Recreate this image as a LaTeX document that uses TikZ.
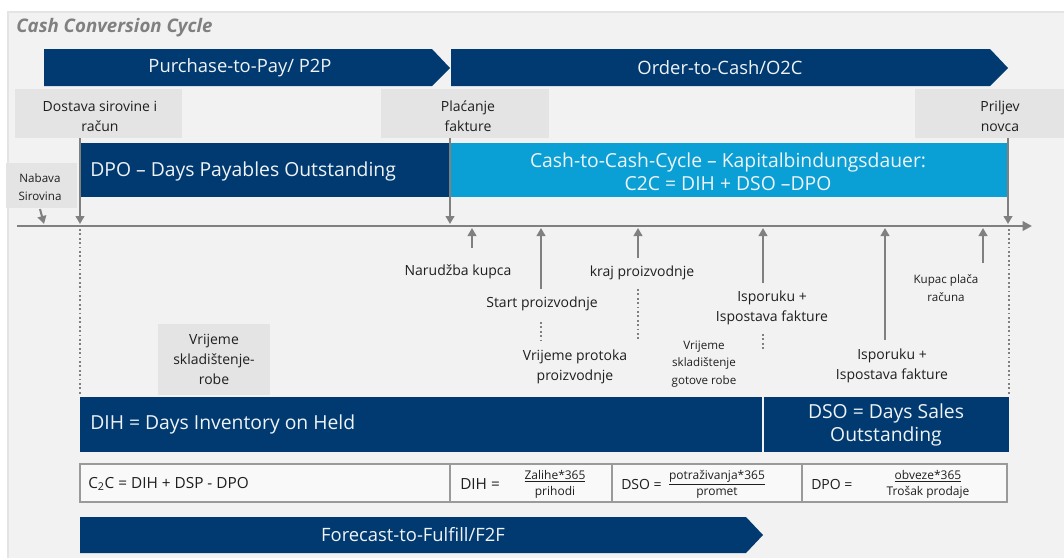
\documentclass[tikz,border=0pt]{standalone}
\usepackage{fontspec}
\setmainfont{Open Sans}
\usepackage{tikz}
\usetikzlibrary{arrows.meta}
\definecolor{navyband}{HTML}{003A70}
\definecolor{skyband}{HTML}{0AA0D6}
\definecolor{panelgray}{HTML}{F2F2F2}
\definecolor{boxgray}{HTML}{E4E4E4}
\definecolor{pointgray}{HTML}{808080}
\definecolor{framegray}{HTML}{9A9A9A}
\newcommand{\thickness}{1.5pt}
\newcommand{\bandfont}{\fontsize{13.8}{17}\selectfont}
\newcommand{\labelfont}{\fontsize{10.5}{15}\selectfont}
\tikzset{
  pointer/.style={draw=pointgray, line width=\thickness, -{Triangle[length=6pt,width=6.5pt]}},
  waitline/.style={draw=pointgray, line width=1.3pt, dotted},
  bandtext/.style={text=white!94!navyband, font=\bandfont, inner sep=0pt, align=center},
  bigtext/.style={text=white!94!navyband, font=\fontsize{14.5}{17.25}\selectfont, inner sep=0pt, align=center},
  labeltext/.style={text=black!88, font=\labelfont, inner sep=0pt, align=center},
  smalltext/.style={text=black!88, font=\fontsize{8.7}{13}\selectfont, inner sep=0pt, align=center},
  celltext/.style={text=black!88, font=\fontsize{11.5}{12}\selectfont, inner sep=0pt},
  fractext/.style={text=black!88, font=\fontsize{9}{12}\selectfont, inner sep=0pt, align=center},
  cellframe/.style={draw=framegray, line width=1.8pt}
}
\begin{document}
\begin{tikzpicture}[x=0.75pt,y=-0.75pt]
\useasboundingbox (0,0) rectangle (1064,558);
%panel
\fill[panelgray] (8,12) rectangle (1064,558);
\draw[boxgray, line width=1pt] (8,558) -- (8,12) -- (1064,12);
\node[anchor=base west, inner sep=0pt, text=pointgray, font=\fontsize{14}{16}\selectfont\bfseries\itshape] (title) at (16,32) {Cash Conversion Cycle};
%process chevrons
\fill[navyband] (44,49) -- (432,49) -- (450,68) -- (432,86) -- (44,86) -- cycle;
\fill[navyband] (451,49) -- (990,49) -- (1008,68) -- (990,86) -- (451,86) -- cycle;
\node[bandtext] (p2p) at (240,68) {Purchase-to-Pay/ P2P};
\node[bandtext] (o2c) at (720,68) {Order-to-Cash/O2C};
%event boxes
\fill[boxgray] (15,89) rectangle (182,138);
\fill[boxgray] (381,89) rectangle (549,138);
\fill[boxgray] (915,89) rectangle (1064,138);
\fill[boxgray] (6,163) rectangle (77,208);
\fill[boxgray] (158,324) rectangle (270,395);
\node[labeltext] (dostava) at (100,116) {Dostava sirovine i\\račun};
\node[labeltext] (placanje) at (468,116) {Plaćanje\\fakture};
\node[labeltext] (priljev) at (1000,116) {Priljev\\novca};
\node[labeltext, font=\fontsize{8.7}{13.5}\selectfont] (nabava) at (40,187) {Nabava\\Sirovina};
\node[labeltext] (skladiste) at (214,359) {Vrijeme\\skladištenje-\\robe};
%periods
\fill[navyband] (80,143) rectangle (450,197);
\fill[skyband] (450,143) rectangle (1008,197);
\node[bigtext, anchor=west] (dpo) at (90,171) {DPO – Days Payables Outstanding};
\node[bigtext] (c2c) at (728,172) {Cash-to-Cash-Cycle – Kapitalbindungsdauer:\\C2C = DIH + DSO –DPO};
\fill[navyband] (80,397) rectangle (762,452);
\fill[navyband] (764,397) rectangle (1009,452);
\node[bigtext, anchor=west] (dih) at (90,424) {DIH = Days Inventory on Held};
\node[bigtext] (dso) at (886,425) {DSO = Days Sales\\Outstanding};
%timeline
\coordinate (t-end) at (1032,226);
\coordinate (t-nabava) at (44,224);
\coordinate (t-dostava) at (80,224);
\coordinate (t-placanje) at (450,224);
\coordinate (t-priljev) at (1008,224);
\coordinate (t-narudzba) at (472,228);
\coordinate (t-start) at (541,228);
\coordinate (t-kraj) at (638,228);
\coordinate (t-isporuka) at (763,228);
\coordinate (t-isporukb) at (885,228);
\coordinate (t-kupac) at (983,228);
\draw[pointer, line width=2pt, -{Triangle[length=7pt,width=7pt]}] (17,226) -- (t-end);
\draw[pointer] (nabava.south |- 0,209) -- (t-nabava);
\draw[pointer] (t-dostava |- 0,138) -- (t-dostava);
\draw[pointer] (t-placanje |- 0,138) -- (t-placanje);
\draw[pointer] (t-priljev |- 0,138) -- (t-priljev);
%events below the line
\node[labeltext] (narudzba) at (458,272) {Narudžba kupca};
\node[labeltext] (pstart) at (542,304) {Start proizvodnje};
\node[labeltext] (protok) at (575,367) {Vrijeme protoka\\proizvodnje};
\node[labeltext] (kraj) at (642,273) {kraj proizvodnje};
\node[labeltext] (isporuka) at (772,308) {Isporuku +\\Ispostava fakture};
\node[smalltext] (gotova) at (704,364) {Vrijeme\\skladištenje\\gotove robe};
\node[labeltext] (isporukb) at (892,366) {Isporuku +\\Ispostava fakture};
\node[smalltext] (kupac) at (946,288) {Kupac plača\\računa};
\draw[pointer] (t-narudzba |- 0,248) -- (t-narudzba);
\draw[pointer] (t-start |- 0,289) -- (t-start);
\draw[pointer] (t-kraj |- 0,258) -- (t-kraj);
\draw[pointer] (t-isporuka |- 0,283) -- (t-isporuka);
\draw[pointer] (t-isporukb |- 0,340) -- (t-isporukb);
\draw[pointer] (t-kupac |- 0,263) -- (t-kupac);
\draw[waitline] (t-start |- 0,322) -- (t-start |- 0,340);
\draw[waitline] (t-kraj |- 0,289) -- (t-kraj |- 0,339);
\draw[waitline] (t-isporuka |- 0,334) -- (t-isporuka |- 0,351);
\draw[waitline] (80,229) -- (80,396);
\draw[waitline] (1009,229) -- (1009,396);
%formulas
\fill[white!55!panelgray] (80,464) rectangle (1007,502);
\draw[cellframe] (80,464) rectangle (1007,502);
\draw[cellframe] (450,464) -- (450,502);
\draw[cellframe] (612,464) -- (612,502);
\draw[cellframe] (802,464) -- (802,502);
\node[celltext, anchor=west] (ccc) at (88,484) {C\textsubscript{2}C = DIH + DSP - DPO};
\node[celltext, anchor=west] (dihf) at (460,484) {DIH =};
\node[fractext] (dihfrac) at (555,484) {\underline{Zalihe*365}\\prihodi};
\node[celltext, anchor=west, font=\fontsize{10.5}{12}\selectfont] (dsof) at (621,484) {DSO =};
\node[fractext] (dsofrac) at (717,484) {\underline{potraživanja*365}\\promet};
\node[celltext, anchor=west, font=\fontsize{10.5}{12}\selectfont] (dpof) at (811,484) {DPO =};
\node[fractext] (dpofrac) at (928,484) {\underline{obveze*365}\\Trošak prodaje};
%forecast
\fill[navyband] (80,517) -- (746,517) -- (763,535) -- (746,553) -- (80,553) -- cycle;
\node[bandtext] (f2f) at (413,535) {Forecast-to-Fulfill/F2F};
\end{tikzpicture}
\end{document}
